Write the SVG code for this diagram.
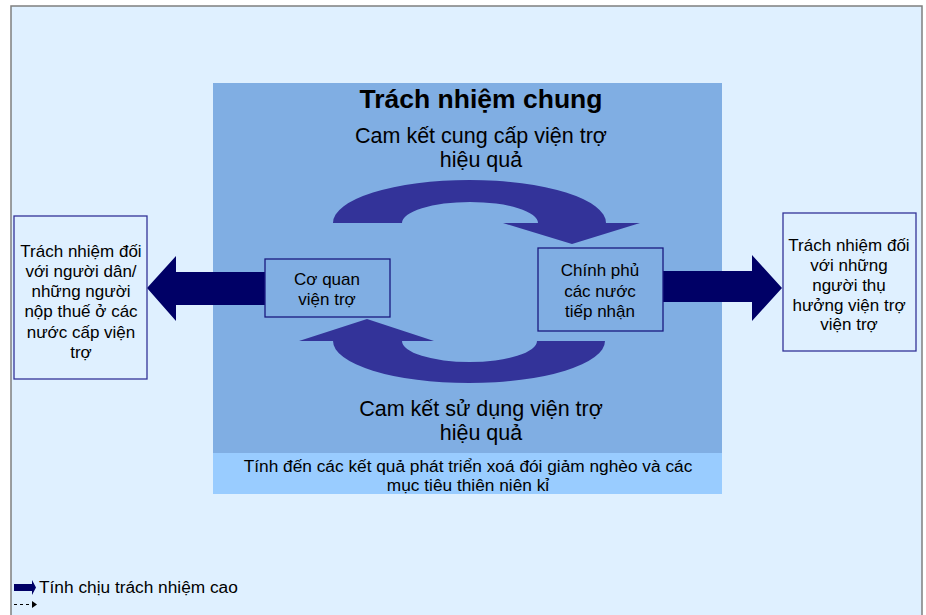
<svg xmlns="http://www.w3.org/2000/svg" width="926" height="615" viewBox="0 0 926 615">
<style>
text{font-family:"Liberation Sans",Arial,sans-serif;fill:#000;text-anchor:middle}
.t17{font-size:17px}
.t17b{font-size:17.3px}
.t21{font-size:21.5px}
.ttl{font-size:26.5px;font-weight:bold}
.thick{fill:#000066}
.curve{fill:#333399}
.obox{fill:#DFF0FF;stroke:#333399;stroke-width:1.3}
.ibox{fill:#80AEE3;stroke:#1A1A80;stroke-width:1.3}
</style>
<rect x="0" y="0" width="926" height="615" fill="#FFFFFF"/>
<rect x="11" y="6" width="911" height="620" fill="#DFF0FF" stroke="#7F7F7F" stroke-width="1.5"/>
<g id="panel">
<rect x="213" y="83" width="509" height="370" fill="#80AEE3"/>
<rect x="213" y="453" width="509" height="41" fill="#99CCFF"/>
<text class="ttl" x="481" y="108">Trách nhiệm chung</text>
<text class="t21" x="481" y="143">Cam kết cung cấp viện trợ</text>
<text class="t21" x="481" y="167">hiệu quả</text>
<text class="t21" x="481" y="416">Cam kết sử dụng viện trợ</text>
<text class="t21" x="481" y="440">hiệu quả</text>
<text class="t17b" x="468" y="472">Tính đến các kết quả phát triển xoá đói giảm nghèo và các</text>
<text class="t17b" x="468" y="491">mục tiêu thiên niên kỉ</text>
</g>
<g id="connectors">
<path class="thick" d="M265,272 L176,272 L176,256 L147,288 L176,321 L176,305 L265,305 Z"/>
<path class="thick" d="M663,271 L752,271 L752,255 L782,288 L752,321 L752,302 L663,302 Z"/>
<path class="curve" d="M333,223 A136.5,43 0 0 1 606,223 L640,223 L572,244 L503,223 L538,223 A68,21 0 0 0 402,223 Z"/>
<path class="curve" d="M605,341 A136,42 0 0 1 333,341 L299,341 L367,319 L434,341 L402,341 A67.5,21 0 0 0 537,341 Z"/>
</g>
<g id="node-left">
<rect class="obox" x="14" y="216" width="133" height="163"/>
<text class="t17" x="81" y="257">Trách nhiệm đối</text>
<text class="t17" x="81" y="277">với người dân/</text>
<text class="t17" x="81" y="297">những người</text>
<text class="t17" x="81" y="317">nộp thuế ở các</text>
<text class="t17" x="81" y="338">nước cấp viện</text>
<text class="t17" x="81" y="358">trợ</text>
</g>
<g id="node-donor">
<rect class="ibox" x="265" y="259" width="125" height="58"/>
<text class="t17" x="327" y="285">Cơ quan</text>
<text class="t17" x="327" y="305">viện trợ</text>
</g>
<g id="node-recipient">
<rect class="ibox" x="538" y="248" width="125" height="83"/>
<text class="t17" x="600" y="276">Chính phủ</text>
<text class="t17" x="600" y="297">các nước</text>
<text class="t17" x="600" y="317">tiếp nhận</text>
</g>
<g id="node-right">
<rect class="obox" x="783" y="213" width="133" height="138"/>
<text class="t17" x="849" y="251">Trách nhiệm đối</text>
<text class="t17" x="849" y="271">với những</text>
<text class="t17" x="849" y="291">người thụ</text>
<text class="t17" x="849" y="311">hưởng viện trợ</text>
<text class="t17" x="849" y="330">viện trợ</text>
</g>
<g id="legend">
<path class="thick" d="M14,584 L32,584 L32,580 L36,587.5 L32,595 L32,591 L14,591 Z"/>
<text class="t17b" x="39" y="593" style="text-anchor:start">Tính chịu trách nhiệm cao</text>
<line x1="14" y1="604.5" x2="32" y2="604.5" stroke="#000" stroke-width="1" stroke-dasharray="3,3"/>
<path d="M32,601 L37,604.5 L32,608 Z" fill="#000"/>
</g>
</svg>
